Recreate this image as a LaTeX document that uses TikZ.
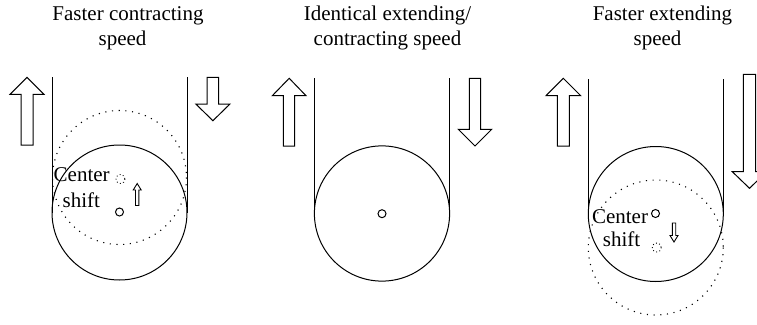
\documentclass[tikz,border=0pt]{standalone}
\usepackage{fontspec}
\setmainfont{Liberation Serif}
\begin{document}
\begin{tikzpicture}[x=1pt,y=-1pt,
  lbl/.style={anchor=base,inner sep=0pt,font=\fontsize{21}{25}\selectfont},
  belt/.style={line width=0.9pt},
  pulley/.style={line width=1pt},
  ghost/.style={line width=1.1pt,dash pattern=on 1.1pt off 5.6pt},
  hub/.style={line width=1pt},
  ghosthub/.style={line width=0.9pt,dash pattern=on 0.9pt off 2.4pt},
  bigarrow/.style={line width=1pt,fill=white,line join=miter},
  smallarrow/.style={line width=0.9pt,fill=white,line join=miter}]
\clip (0,0) rectangle (757,324);
\fill[white] (0,0) rectangle (757,324);

% titles
\node[lbl] (t1a) at (128,20) {Faster contracting};
\node[lbl] (t1b) at (122.5,45.5) {speed};
\node[lbl] (t2a) at (387.5,20) {Identical extending/};
\node[lbl] (t2b) at (387.5,45.5) {contracting speed};
\node[lbl] (t3a) at (662.5,20) {Faster extending};
\node[lbl] (t3b) at (657.5,45.5) {speed};

% ---------- panel 1 ----------
\draw[ghost] (119.5,177.5) circle (67);
\draw[pulley] (119.5,212.5) circle (67.5);
\draw[belt] (52,77) -- (52,212.5);
\draw[belt] (187,77) -- (187,212.5);
\draw[hub] (119.5,212) circle (4);
\draw[ghosthub] (120.5,179) circle (4.5);
\draw[bigarrow] (27,77.3) -- (44,94.3) -- (33,94.3) -- (33,145) -- (21,145) -- (21,94.3) -- (10,94.3) -- cycle;
\draw[bigarrow] (212.9,120.7) -- (230,104) -- (218.6,104) -- (218.6,77.3) -- (207.2,77.3) -- (207.2,104) -- (195.8,104) -- cycle;
\draw[smallarrow] (137.2,183.5) -- (141.2,190) -- (138.9,190) -- (138.9,205.5) -- (135.5,205.5) -- (135.5,190) -- (133.2,190) -- cycle;
\node[lbl] (c1a) at (81.7,181.7) {Center};
\node[lbl] (c1b) at (81.3,207.3) {shift};

% ---------- panel 2 ----------
\draw[pulley] (382,213.5) circle (67.6);
\draw[belt] (314.4,78.3) -- (314.4,213.5);
\draw[belt] (449.6,78.3) -- (449.6,213.5);
\draw[hub] (382,213.7) circle (4);
\draw[bigarrow] (289.2,78.3) -- (306,95.7) -- (294.7,95.7) -- (294.7,146) -- (283.3,146) -- (283.3,95.7) -- (272.3,95.7) -- cycle;
\draw[bigarrow] (475,146) -- (491.7,129.3) -- (480.7,129.3) -- (480.7,78.3) -- (469.3,78.3) -- (469.3,129.3) -- (458.3,129.3) -- cycle;

% ---------- panel 3 ----------
\draw[ghost] (655.8,247.5) circle (67.5);
\draw[pulley] (655.8,214) circle (67.5);
\draw[belt] (588.3,79) -- (588.3,214);
\draw[belt] (723.3,79) -- (723.3,214);
\draw[hub] (655.5,213.5) circle (4);
\draw[ghosthub] (656.8,247.5) circle (4.5);
\draw[bigarrow] (563.3,78.3) -- (580.7,95.7) -- (569.3,95.7) -- (569.3,146) -- (557.3,146) -- (557.3,95.7) -- (546,95.7) -- cycle;
\draw[bigarrow] (749.5,188.3) -- (766.7,171.7) -- (755.7,171.7) -- (755.7,74.3) -- (743.3,74.3) -- (743.3,171.7) -- (732.3,171.7) -- cycle;
\draw[smallarrow] (674,242) -- (678,235.5) -- (675.7,235.5) -- (675.7,223) -- (672.3,223) -- (672.3,235.5) -- (670,235.5) -- cycle;
\node[lbl] (c3a) at (620,223.3) {Center};
\node[lbl] (c3b) at (621.5,246.7) {shift};
\end{tikzpicture}
\end{document}
